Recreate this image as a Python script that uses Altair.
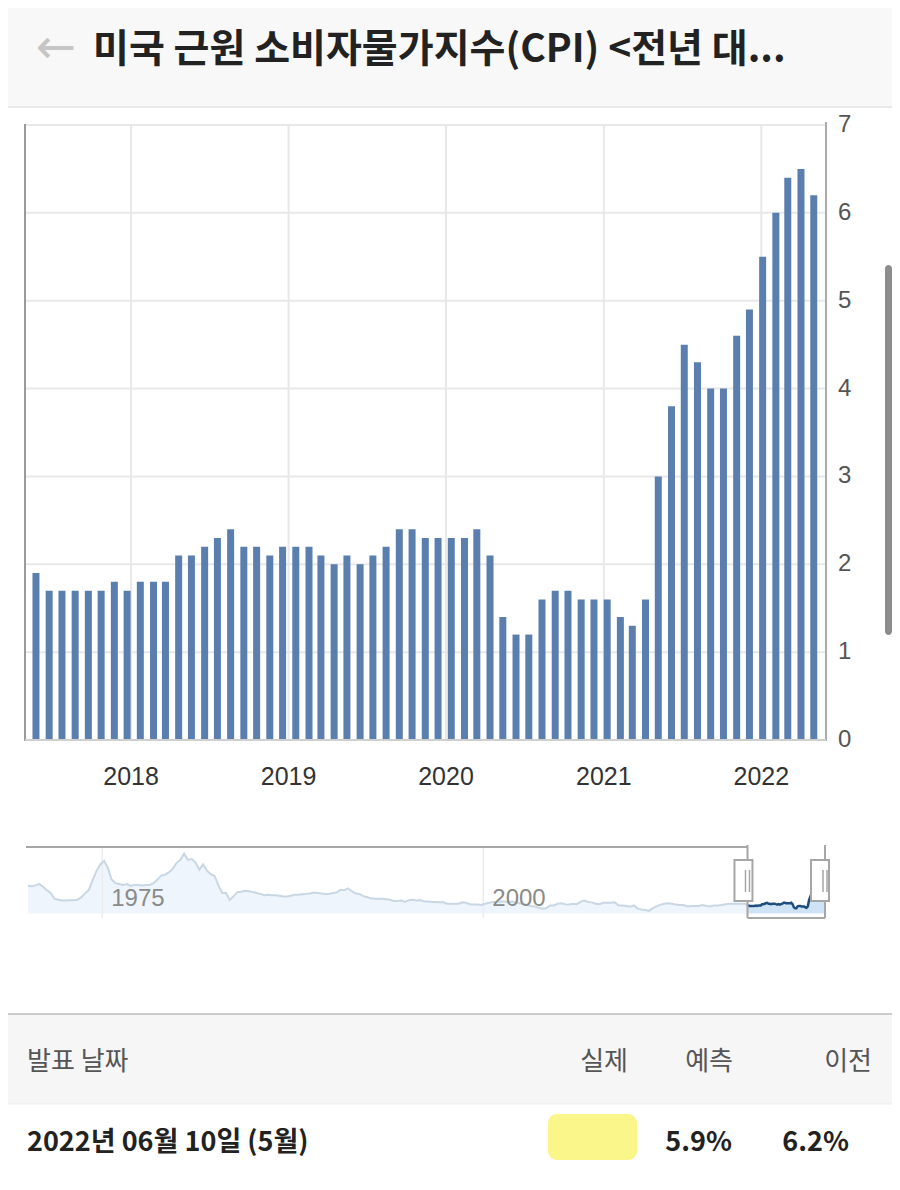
import altair as alt
import pandas as pd

# ---------------- data ----------------
months = pd.date_range("2017-04-01", "2022-04-01", freq="MS")
core_cpi_yoy = [
    1.9, 1.7, 1.7, 1.7, 1.7, 1.7, 1.8, 1.7, 1.8,                 # Apr-Dec 2017
    1.8, 1.8, 2.1, 2.1, 2.2, 2.3, 2.4, 2.2, 2.2, 2.1, 2.2, 2.2,  # 2018
    2.2, 2.1, 2.0, 2.1, 2.0, 2.1, 2.2, 2.4, 2.4, 2.3, 2.3, 2.3,  # 2019
    2.3, 2.4, 2.1, 1.4, 1.2, 1.2, 1.6, 1.7, 1.7, 1.6, 1.6, 1.6,  # 2020
    1.4, 1.3, 1.6, 3.0, 3.8, 4.5, 4.3, 4.0, 4.0, 4.6, 4.9, 5.5,  # 2021
    6.0, 6.4, 6.5, 6.2,                                          # Jan-Apr 2022
]
y_ticks = [0, 1, 2, 3, 4, 5, 6, 7]
year_ticks = [2018, 2019, 2020, 2021, 2022]

# long history for the navigator (quarterly, 1970Q1 - 2017Q1)
hist_quarters = pd.date_range("1970-01-01", "2017-01-01", freq="QS")
hist_values = [
    6.2, 6.1, 6.3, 6.6,   6.0, 5.2, 4.6, 3.3,   3.1, 2.9, 2.9, 3.0,   3.0, 3.1, 3.6, 4.5,
    5.3, 7.5, 9.5, 11.0,  11.8, 10.2, 7.6, 6.8, 6.6, 6.4, 6.6, 6.2,   6.4, 6.4, 6.3, 6.4,
    6.4, 6.8, 7.6, 8.5,   8.7, 9.2, 10.0, 11.3, 12.0, 13.4, 12.0, 12.2, 11.4, 9.8, 11.0, 9.6,
    8.8, 8.4, 6.3, 4.6,   4.6, 3.0, 3.9, 4.8,   4.9, 5.1, 5.0, 4.8,   4.6, 4.4, 4.1, 4.2,
    4.1, 4.1, 4.0, 3.8,   3.8, 4.0, 4.2, 4.2,   4.3, 4.4, 4.5, 4.7,   4.6, 4.5, 4.4, 4.4,
    4.6, 4.7, 5.3, 5.2,   5.6, 5.0, 4.5, 4.4,   3.9, 3.7, 3.4, 3.3,   3.3, 3.3, 3.2, 3.1,
    2.8, 2.8, 2.9, 2.6,   3.0, 3.1, 2.9, 3.0,   2.7, 2.7, 2.6, 2.6,   2.5, 2.5, 2.2, 2.2,
    2.2, 2.2, 2.5, 2.4,   2.1, 2.0, 2.0, 1.9,   2.2, 2.4, 2.6, 2.6,   2.7, 2.7, 2.6, 2.7,
    2.5, 2.3, 2.2, 1.9,   1.7, 1.6, 1.3, 1.1,   1.2, 1.8, 1.8, 2.2,   2.3, 2.1, 2.0, 2.2,
    2.1, 2.6, 2.9, 2.6,   2.5, 2.2, 2.1, 2.4,   2.4, 2.4, 2.5, 1.8,   1.8, 1.7, 1.5, 1.8,
    1.1, 0.9, 0.8, 0.6,   1.2, 1.6, 2.0, 2.2,   2.3, 2.2, 2.0, 1.9,   1.9, 1.6, 1.7, 1.7,
    1.7, 1.9, 1.7, 1.6,   1.8, 1.8, 1.9, 2.1,   2.2, 2.2, 2.2, 2.2,
    2.2,
]
nav_years = [1975, 2000]

title_text = "미국 근원 소비자물가지수(CPI) <전년 대..."
table_header = ["발표 날짜", "실제", "예측", "이전"]
release_row = ["2022년 06월 10일 (5월)", "", "5.9%", "6.2%"]

# ---------------- frames ----------------
release_dates = (months + pd.DateOffset(months=1) + pd.Timedelta(days=13)).strftime("%Y-%m-%d")
bars_df = pd.DataFrame({"d": release_dates, "v": core_cpi_yoy})
hist_df = pd.DataFrame({"d": (hist_quarters + pd.Timedelta(days=45)).strftime("%Y-%m-%d"),
                        "v": hist_values})
hist_df = pd.concat([hist_df, bars_df.iloc[:1]], ignore_index=True)
one = pd.DataFrame({"k": [0]})

FONT = "Liberation Sans"
KR = "Noto Sans CJK KR"

x_main = alt.Scale(domain=[alt.DateTime(year=2017, month=4, date=30, utc=True),
                           alt.DateTime(year=2022, month=5, date=31, utc=True)],
                   range=[17, 818], nice=False)
y_main = alt.Scale(domain=[0, 7], range=[732, 117], nice=False, zero=False)
x_nav = alt.Scale(domain=[alt.DateTime(year=1970, month=1, date=1, utc=True),
                          alt.DateTime(year=2022, month=5, date=31, utc=True)],
                  range=[18, 817], nice=False)
y_nav = alt.Scale(domain=[-1, 14], range=[910, 843], nice=False, zero=False)


def rect(x1, x2, y1, y2, color, **kw):
    return alt.Chart(one).mark_rect(color=color, **kw).encode(
        x=alt.value(x1), x2=alt.value(x2), y=alt.value(y1), y2=alt.value(y2))


def hline(y, x1, x2, color, w=2):
    return alt.Chart(one).mark_rule(color=color, strokeWidth=w).encode(
        x=alt.value(x1), x2=alt.value(x2), y=alt.value(y))


def vline(x, y1, y2, color, w=2):
    return alt.Chart(one).mark_rule(color=color, strokeWidth=w).encode(
        x=alt.value(x), y=alt.value(y1), y2=alt.value(y2))


def label(txt, x, y, size, color, align="left", weight="normal", font=KR):
    return alt.Chart(one).mark_text(text=txt, align=align, baseline="middle", fontSize=size,
                                    color=color, fontWeight=weight, font=font).encode(
        x=alt.value(x), y=alt.value(y))


layers = []

# header
layers.append(rect(0, 884, 0, 98, "#f8f8f8"))
layers.append(hline(99, 0, 884, "#e9e9e9"))
layers.append(label("←", 28, 41, 48, "#c6c6c6", font="DejaVu Sans"))
layers.append(label(title_text, 85, 42, 39, "#222222", weight="bold"))

# main plot grid
year_df = pd.DataFrame({"d": [f"{y}-01-01" for y in year_ticks], "t": [str(y) for y in year_ticks]})
layers.append(alt.Chart(pd.DataFrame({"v": y_ticks})).mark_rule(color="#e8e8e8", strokeWidth=2).encode(
    y=alt.Y("v:Q", scale=y_main, axis=None), x=alt.value(17), x2=alt.value(818)))
layers.append(alt.Chart(year_df).mark_rule(color="#e8e8e8", strokeWidth=2).encode(
    x=alt.X("d:T", scale=x_main, axis=None), y=alt.value(116), y2=alt.value(732)))

# bars
layers.append(alt.Chart(bars_df).mark_bar(size=7, color="#5a7fae").encode(
    x=alt.X("d:T", scale=x_main, axis=None),
    y=alt.Y("v:Q", scale=y_main, axis=None)))

# axis lines
layers.append(vline(17, 116, 733, "#9a9a9a"))
layers.append(vline(818, 114, 733, "#ababab"))
layers.append(hline(732, 17, 818, "#cfcfcf"))

# tick labels
layers.append(alt.Chart(pd.DataFrame({"v": y_ticks})).mark_text(
    align="left", baseline="middle", fontSize=24, font=FONT, color="#555555").encode(
    y=alt.Y("v:Q", scale=y_main, axis=None), x=alt.value(830), text="v:Q"))
layers.append(alt.Chart(year_df).mark_text(
    align="center", baseline="middle", fontSize=25, font=FONT, color="#333333").encode(
    x=alt.X("d:T", scale=x_main, axis=None), y=alt.value(769), text="t:N"))

# scrollbar
layers.append(rect(877, 884, 257, 627, "#8c8c8c", cornerRadius=3.5))

# navigator
nav_year_df = pd.DataFrame({"d": [f"{y}-01-01" for y in nav_years], "t": [str(y) for y in nav_years]})
layers.append(alt.Chart(hist_df).mark_area(color="#eef5fc", opacity=1).encode(
    x=alt.X("d:T", scale=x_nav, axis=None), y=alt.Y("v:Q", scale=y_nav, axis=None), y2=alt.value(910)))
layers.append(alt.Chart(nav_year_df).mark_rule(color="#ececec", strokeWidth=1.5).encode(
    x=alt.X("d:T", scale=x_nav, axis=None), y=alt.value(839), y2=alt.value(910)))
layers.append(alt.Chart(hist_df).mark_line(color="#c9d7e5", strokeWidth=2).encode(
    x=alt.X("d:T", scale=x_nav, axis=None), y=alt.Y("v:Q", scale=y_nav, axis=None)))
layers.append(alt.Chart(bars_df).mark_area(color="#cfe3f7", opacity=1).encode(
    x=alt.X("d:T", scale=x_nav, axis=None), y=alt.Y("v:Q", scale=y_nav, axis=None), y2=alt.value(910)))
layers.append(alt.Chart(bars_df).mark_line(color="#1d4e7e", strokeWidth=2.5).encode(
    x=alt.X("d:T", scale=x_nav, axis=None), y=alt.Y("v:Q", scale=y_nav, axis=None)))
layers.append(alt.Chart(nav_year_df).mark_text(
    align="left", baseline="middle", fontSize=24, font=FONT, color="#8a8a8a", dx=9).encode(
    x=alt.X("d:T", scale=x_nav, axis=None), y=alt.value(891), text="t:N"))

sel_df = pd.DataFrame({"n0": ["1970-01-01"], "s": ["2017-04-30"], "e": ["2022-05-31"]})
handle_df = pd.DataFrame({"h": ["2017-04-30", "2022-05-31"]})
OUT = "#a6a6a6"
layers.append(alt.Chart(sel_df).mark_rule(color=OUT, strokeWidth=2).encode(
    x=alt.X("n0:T", scale=x_nav, axis=None), x2="s:T", y=alt.value(839)))
layers.append(alt.Chart(sel_df).mark_rule(color=OUT, strokeWidth=2).encode(
    x=alt.X("s:T", scale=x_nav, axis=None), x2="e:T", y=alt.value(910)))
layers.append(alt.Chart(handle_df).mark_rule(color=OUT, strokeWidth=2).encode(
    x=alt.X("h:T", scale=x_nav, axis=None), y=alt.value(837), y2=alt.value(910)))
layers.append(alt.Chart(handle_df).mark_bar(size=18, fill="white", stroke=OUT, strokeWidth=2).encode(
    x=alt.X("h:T", scale=x_nav, axis=None), y=alt.value(852), y2=alt.value(893)))
for off in (-2, 2):
    layers.append(alt.Chart(handle_df).mark_rule(color=OUT, strokeWidth=1.5, xOffset=off).encode(
        x=alt.X("h:T", scale=x_nav, axis=None), y=alt.value(862), y2=alt.value(884)))

# panel bottom / table
layers.append(rect(0, 884, 1007, 1096, "#f6f6f6"))
layers.append(hline(1006, 0, 884, "#cccccc"))
layers.append(hline(1096, 0, 884, "#ededed", 1))
layers.append(label(table_header[0], 19, 1054, 26, "#555555"))
layers.append(label(table_header[1], 620, 1054, 26, "#555555", align="right"))
layers.append(label(table_header[2], 725, 1054, 26, "#555555", align="right"))
layers.append(label(table_header[3], 864, 1054, 26, "#555555", align="right"))

layers.append(rect(540, 629, 1106, 1152, "#fbf68a", cornerRadius=9))
layers.append(label(release_row[0], 19, 1135, 27, "#222222", weight="bold"))
layers.append(label(release_row[2], 724, 1135, 27, "#222222", align="right", weight="bold"))
layers.append(label(release_row[3], 841, 1135, 27, "#222222", align="right", weight="bold"))

chart = alt.layer(*layers).resolve_scale(x="independent", y="independent").properties(
    width=884, height=1170, padding=0, autosize=alt.AutoSizeParams(type="none")
).configure_view(stroke=None)

chart.save("out.html", embed_options={"renderer": "svg", "actions": False})
